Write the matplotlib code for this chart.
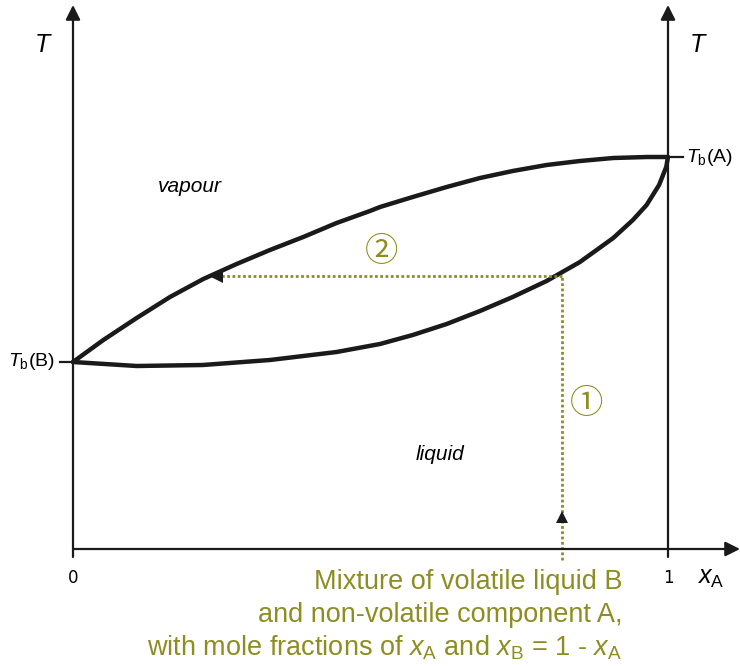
#T-x phase diagram: volatile liquid B with non-volatile component A
import numpy as np
import matplotlib.pyplot as plt

plt.rcParams['mathtext.fontset'] = 'custom'
plt.rcParams['mathtext.rm'] = 'Liberation Sans'
plt.rcParams['mathtext.it'] = 'Liberation Sans:italic'

# vapour (upper) curve: mole fraction of A vs temperature (arb. units)
vap_x = [0.0, 0.051, 0.107, 0.163, 0.219, 0.275, 0.331, 0.387, 0.443, 0.499, 0.516,
         0.571, 0.628, 0.684, 0.739, 0.796, 0.852, 0.908, 0.965, 1.0]
vap_T = [1.87, 2.09, 2.31, 2.52, 2.70, 2.85, 2.99, 3.12, 3.26, 3.38, 3.42,
         3.52, 3.62, 3.71, 3.78, 3.84, 3.88, 3.91, 3.92, 3.92]

# liquid (lower) curve
liq_x = [0.0, 0.107, 0.218, 0.331, 0.443, 0.516, 0.571, 0.628, 0.684, 0.739, 0.796,
         0.852, 0.908, 0.941, 0.964, 0.985, 0.997, 1.0]
liq_T = [1.87, 1.83, 1.84, 1.89, 1.97, 2.05, 2.14, 2.25, 2.38, 2.52, 2.68,
         2.87, 3.11, 3.29, 3.44, 3.64, 3.82, 3.92]

Tb_B = 1.87
Tb_A = 3.92
x_mix = 0.822       # composition of the mixture
T_start = 0.32      # where the heating arrow sits
T_boil = 2.73       # where the mixture meets the liquid line
x_vap = 0.250       # vapour composition at T_boil

olive = '#8d8d22'
black = '#1a1a1a'

fig = plt.figure(figsize=(7.4, 6.66), dpi=100)
ax = fig.add_axes([0, 0, 1, 1])
ax.set_xlim(-73 / 595, 667 / 595)
ax.set_ylim(-1.17, 5.49)
ax.axis('off')

# axes with arrow heads
arw = dict(arrowstyle='-|>', lw=1.6, color=black, mutation_scale=22, shrinkA=0, shrinkB=0)
ax.annotate('', xy=(0, 5.44), xytext=(0, -0.08), arrowprops=arw)
ax.annotate('', xy=(1, 5.44), xytext=(1, -0.08), arrowprops=arw)
ax.annotate('', xy=(667 / 595, 0), xytext=(0, 0), arrowprops=arw)
ax.plot([-0.022, 0], [Tb_B, Tb_B], color=black, lw=1.6)
ax.plot([1, 1.025], [Tb_A, Tb_A], color=black, lw=1.6)

# phase boundaries
ax.plot(vap_x, vap_T, color=black, lw=3.2, solid_capstyle='round', solid_joinstyle='round')
ax.plot(liq_x, liq_T, color=black, lw=3.2, solid_capstyle='round', solid_joinstyle='round')

# heating path 1 and vapour path 2
ax.plot([x_mix, x_mix], [-0.11, T_boil], color=olive, lw=2, ls=(0, (1, 0.9)))
ax.plot([x_mix, x_vap], [T_boil, T_boil], color=olive, lw=2, ls=(0, (1, 0.9)))
ax.plot(x_mix, T_start, marker='^', ms=9, color=black, mew=0)
ax.plot(x_vap - 0.008, T_boil - 0.01, marker='<', ms=9, color=black, mew=0)

circ = ['Noto Sans CJK JP', 'DejaVu Sans']
ax.text(0.519, 2.97, '②', color=olive, fontsize=24, ha='center', va='center', family=circ)
ax.text(0.863, 1.46, '①', color=olive, fontsize=24, ha='center', va='center', family=circ)

# labels
ax.text(-0.052, 5.04, 'T', fontsize=18, style='italic', family='Liberation Sans', ha='center', va='center')
ax.text(1.049, 5.04, 'T', fontsize=18, style='italic', family='Liberation Sans', ha='center', va='center')
ax.text(-0.03, Tb_B, r'$T_\mathrm{b}$(B)', fontsize=14, family='Liberation Sans', ha='right', va='center')
ax.text(1.03, Tb_A, r'$T_\mathrm{b}$(A)', fontsize=14, family='Liberation Sans', ha='left', va='center')
ax.text(0.197, 3.63, 'vapour', fontsize=15, style='italic', family='Liberation Sans', ha='center', va='center')
ax.text(0.617, 0.94, 'liquid', fontsize=15, style='italic', family='Liberation Sans', ha='center', va='center')
ax.text(0, -0.29, '0', fontsize=12, ha='center', va='center')
ax.text(1, -0.29, '1', fontsize=12, ha='center', va='center')
ax.text(1.072, -0.29, r'$x_\mathrm{A}$', fontsize=18, ha='center', va='center')

lines = ['Mixture of volatile liquid B',
         'and non-volatile component A,',
         r'with mole fractions of $x_\mathrm{A}$ and $x_\mathrm{B}$ = 1 - $x_\mathrm{A}$']
for i, s in enumerate(lines):
    ax.text(0.923, -0.40 - 0.33 * i, s, fontsize=19.5, color=olive, family='Liberation Sans',
            ha='right', va='baseline')

fig.savefig('out.png', dpi=100)
